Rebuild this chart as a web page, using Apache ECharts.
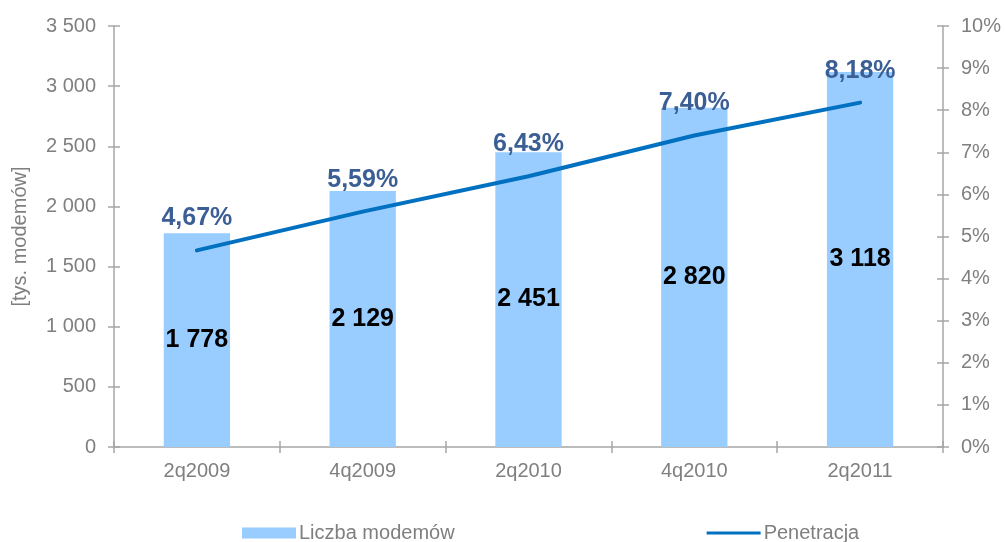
<!DOCTYPE html>
<html><head><meta charset="utf-8">
<script src="https://cdn.jsdelivr.net/npm/echarts@6/dist/echarts.min.js"></script>
<style>html,body{margin:0;padding:0;background:#fff}#c{width:1005px;height:542px}</style>
</head><body><div id="c"></div>
<script>
const categories = ['2q2009','4q2009','2q2010','4q2010','2q2011'];
const modems = [1778, 2129, 2451, 2820, 3118];
const penetration = [4.67, 5.59, 6.43, 7.40, 8.18];
const leftTicks = [0, 500, 1000, 1500, 2000, 2500, 3000, 3500];
const rightTicks = [0,1,2,3,4,5,6,7,8,9,10];

const FONT = '"Liberation Sans", Arial, sans-serif';
const AX = '#A6A6A6', TXT = '#7F7F7F';
const fmtThousands = v => String(v).replace(/\B(?=(\d{3})+(?!\d))/g, ' ');
const chart = echarts.init(document.getElementById('c'));
const axisLine = {show: true, lineStyle: {color: AX, width: 1.5}};
const tickOut = {show: true, length: 6, lineStyle: {color: AX, width: 1.5}};
const tickIn = {show: true, inside: true, length: 6, lineStyle: {color: AX, width: 1.5}};
const lbl = {fontFamily: FONT, fontSize: 20, color: TXT, margin: 18};
chart.setOption({
  animation: false,
  textStyle: {fontFamily: FONT},
  grid: {left: 114, right: 62, top: 26, bottom: 95},
  legend: {
    top: 518, left: 237, itemGap: 252, itemWidth: 54, itemHeight: 11,
    textStyle: {fontFamily: FONT, fontSize: 20, color: TXT, padding: [0,0,0,-2]},
    data: [{name: 'Liczba modemów', icon: 'rect'}, {name: 'Penetracja', icon: 'path://M0,4 L52,4 L52,7 L0,7 Z'}]
  },
  xAxis: [{
    type: 'category', data: categories,
    axisLine: axisLine, axisTick: tickOut,
    axisLabel: Object.assign({}, lbl, {margin: 14})
  }, {
    type: 'category', data: categories, position: 'bottom',
    axisLine: {show: false}, axisTick: tickIn, axisLabel: {show: false}
  }],
  yAxis: [{
    type: 'value', min: 0, max: 3500, interval: 500,
    name: '[tys. modemów]', nameLocation: 'middle', nameGap: 84, nameRotate: 90,
    nameTextStyle: {fontFamily: FONT, fontSize: 20, color: TXT},
    axisLine: axisLine, axisTick: tickOut, splitLine: {show: false},
    axisLabel: Object.assign({}, lbl, {formatter: v => fmtThousands(v)})
  }, {
    type: 'value', min: 0, max: 10, interval: 1, position: 'right',
    axisLine: axisLine, axisTick: tickOut, splitLine: {show: false},
    axisLabel: Object.assign({}, lbl, {formatter: v => v + '%'})
  }, {
    type: 'value', min: 0, max: 3500, interval: 500, position: 'left',
    axisLine: {show: false}, axisTick: tickIn, splitLine: {show: false}, axisLabel: {show: false}
  }, {
    type: 'value', min: 0, max: 10, interval: 1, position: 'right',
    axisLine: {show: false}, axisTick: tickIn, splitLine: {show: false}, axisLabel: {show: false}
  }],
  series: [{
    name: 'Liczba modemów', type: 'bar', data: modems, barWidth: '40%',
    itemStyle: {color: '#99CCFF'},
    label: {show: true, position: 'inside', fontFamily: FONT, fontSize: 25, fontWeight: 'bold',
      color: '#000', formatter: p => fmtThousands(p.value)}
  }, {
    name: 'Penetracja', type: 'line', yAxisIndex: 1, data: penetration,
    lineStyle: {color: '#0070C0', width: 4, cap: 'round'}, itemStyle: {color: '#0070C0'},
    symbol: 'circle', symbolSize: 3, showSymbol: true, z: 5,
    label: {show: true, position: 'top', distance: 18, fontFamily: FONT, fontSize: 25, fontWeight: 'bold',
      color: '#3B5F95', formatter: p => p.value.toFixed(2).replace('.', ',') + '%'}
  }]
});
</script></body></html>
